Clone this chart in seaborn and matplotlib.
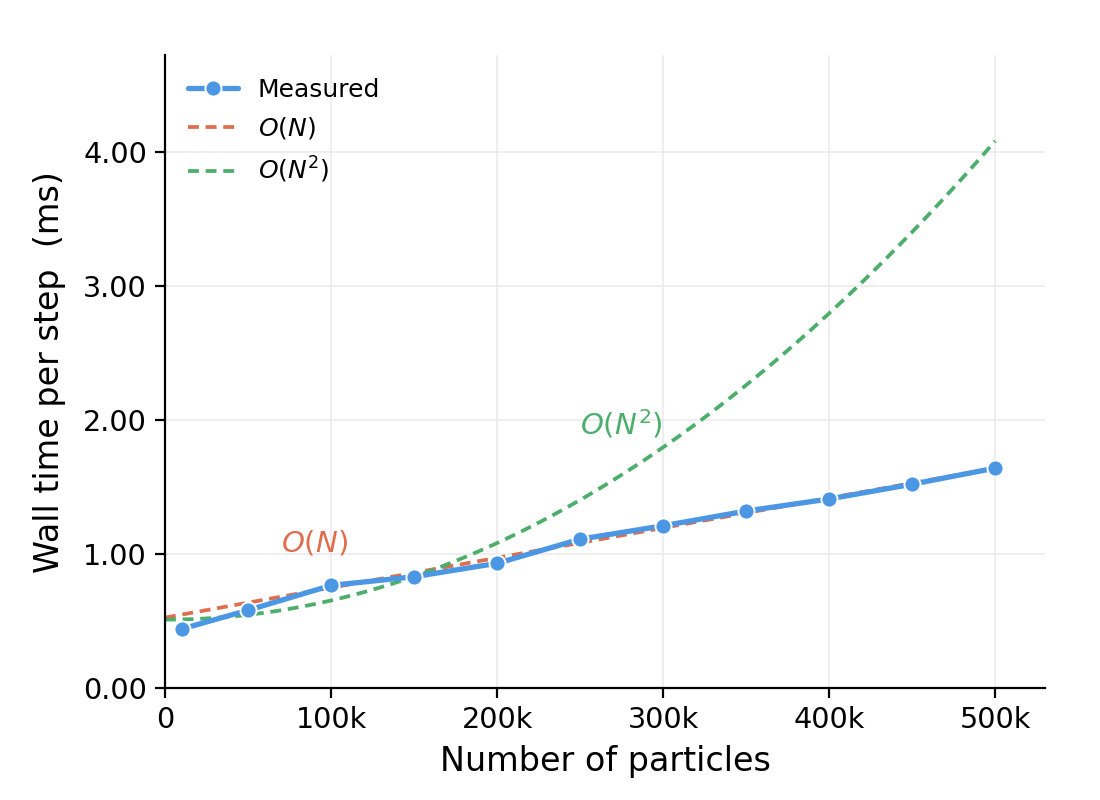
import numpy as np
import pandas as pd
import matplotlib
matplotlib.use('Agg')
import matplotlib.pyplot as plt
import seaborn as sns
from matplotlib.ticker import FuncFormatter

# Measured wall time per step
particles = [10000, 50000, 100000, 150000, 200000, 250000, 300000,
             350000, 400000, 450000, 500000]
wall_ms = [0.44, 0.58, 0.765, 0.83, 0.93, 1.11, 1.21, 1.32, 1.41, 1.52, 1.64]

# Reference scaling curves (coefficients)
lin_intercept = 0.525
lin_slope = 2.23e-6
quad_intercept = 0.51
quad_coef = 1.428e-11

sns.set_theme(style="white")
plt.rcParams['font.family'] = ['DejaVu Sans']
plt.rcParams['text.color'] = 'black'
plt.rcParams['axes.labelcolor'] = 'black'
plt.rcParams['xtick.color'] = 'black'
plt.rcParams['ytick.color'] = 'black'

blue = '#4C97E4'
orange = '#E06D4C'
green = '#4BAE6A'

df = pd.DataFrame({'N': particles, 'ms': wall_ms})
grid_n = np.linspace(0, 500000, 200)
ref = pd.DataFrame({
    'N': grid_n,
    'lin': lin_intercept + lin_slope * grid_n,
    'quad': quad_intercept + quad_coef * grid_n ** 2,
})

fig = plt.figure(figsize=(5.5, 4), dpi=200)
ax = fig.add_axes([0.15, 0.14, 0.80, 0.791])

dash = (0, (2.9, 1.8))
sns.lineplot(data=ref, x='N', y='lin', ax=ax, color=orange, lw=1.35,
             linestyle=dash, label='$O(N)$', zorder=2)
sns.lineplot(data=ref, x='N', y='quad', ax=ax, color=green, lw=1.35,
             linestyle=dash, label='$O(N^2)$', zorder=2)
sns.lineplot(data=df, x='N', y='ms', ax=ax, color=blue, lw=1.9, marker='o',
             markersize=5.8, markeredgecolor='white', markeredgewidth=0.7,
             label='Measured', zorder=3)

ax.text(90000, 1.08, '$O(N)$', color=orange, fontsize=10.5, ha='center', va='center')
ax.text(275000, 1.97, '$O(N^2)$', color=green, fontsize=10.5, ha='center', va='center')

ax.set_xlim(0, 530000)
ax.set_ylim(0, 4.72)
ax.set_xticks([0, 100000, 200000, 300000, 400000, 500000])
ax.set_yticks([0, 1, 2, 3, 4])
ax.xaxis.set_major_formatter(FuncFormatter(lambda v, p: '0' if v == 0 else f'{int(v/1000)}k'))
ax.yaxis.set_major_formatter(FuncFormatter(lambda v, p: f'{v:.2f}'))
ax.grid(True, color='#ebebeb', lw=0.6)
ax.set_axisbelow(True)
ax.tick_params(axis='both', labelsize=10.3, length=3.5, width=0.8, direction='out',
               bottom=True, left=True, color='black', pad=3)
for s in ['top', 'right']:
    ax.spines[s].set_visible(False)
for s in ['left', 'bottom']:
    ax.spines[s].set_color('black')
    ax.spines[s].set_linewidth(0.8)

ax.set_xlabel('Number of particles', fontsize=12, labelpad=4)
ax.set_ylabel('Wall time per step  (ms)', fontsize=12, labelpad=6)

handles, labels = ax.get_legend_handles_labels()
order = [labels.index('Measured'), labels.index('$O(N)$'), labels.index('$O(N^2)$')]
ax.legend([handles[i] for i in order], [labels[i] for i in order],
          loc='upper left', frameon=False, fontsize=9, handlelength=2.0,
          handletextpad=0.8, labelspacing=0.55, borderaxespad=0.5)

fig.savefig('out.png', dpi=200)
